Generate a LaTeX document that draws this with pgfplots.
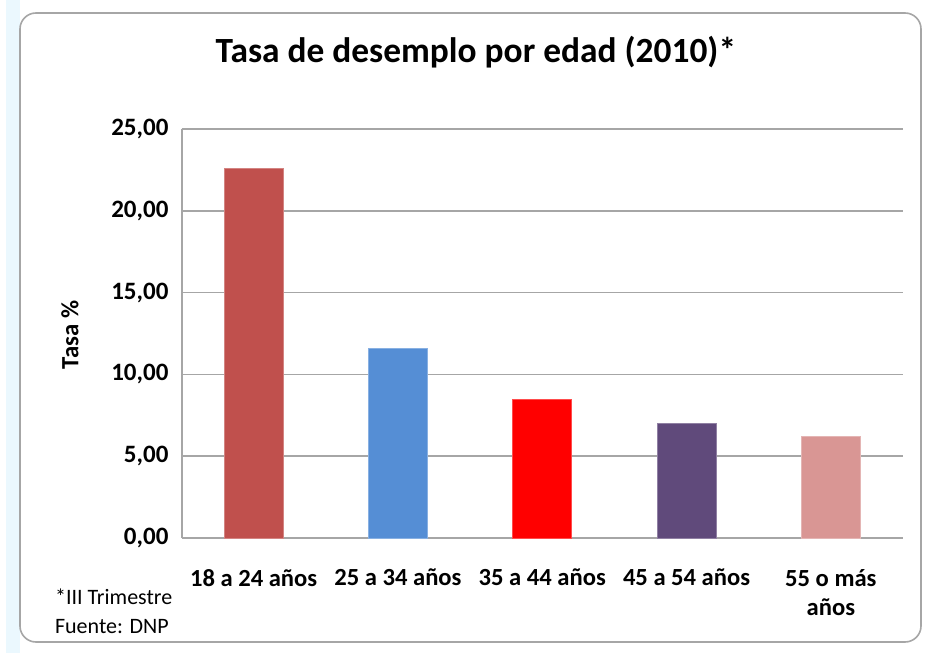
\documentclass[border=0pt]{standalone}
\usepackage{pgfplots}
\pgfplotsset{compat=1.18}
\usepackage{fontspec}
\setmainfont{Carlito}

\definecolor{barA}{HTML}{C0504D}
\definecolor{barB}{HTML}{558ED5}
\definecolor{barC}{HTML}{FF0000}
\definecolor{barD}{HTML}{604A7B}
\definecolor{barE}{HTML}{D99694}
\definecolor{gridc}{HTML}{A6A6A6}

\begin{document}
\begin{tikzpicture}
% page and chart frame
\useasboundingbox (0,0) rectangle (463pt,326.5pt);
\fill[white] (0,0) rectangle (463pt,326.5pt);
\fill[cyan!8] (3pt,0) rectangle (10pt,326.5pt);
\draw[gray!70, line width=0.8pt, rounded corners=8pt] (10pt,5.5pt) rectangle (460.5pt,320pt);

\begin{axis}[
    at={(90.75pt,57.5pt)}, anchor=south west,
    scale only axis,
    width=360.75pt, height=204.5pt,
    xmin=-0.5, xmax=4.5,
    ymin=0, ymax=25,
    ytick={0,5,...,25},
    xtick={0,1,2,3,4},
    xticklabels={18 a 24 años, 25 a 34 años, 35 a 44 años, 45 a 54 años, 55 o más\\años},
    major tick length=0pt,
    axis x line*=bottom,
    axis y line*=left,
    axis line style={gridc, line width=1pt},
    ymajorgrids,
    grid style={gridc, line width=0.8pt},
    /pgf/number format/.cd, fixed, fixed zerofill, precision=2, use comma, assume math mode=true,
    /pgfplots/.cd,
    yticklabel style={font=\bfseries\fontsize{12.5}{15}\selectfont, xshift=-3pt},
    xticklabel style={font=\bfseries\fontsize{12.3}{14.5}\selectfont, align=center, yshift=-12pt},
    ylabel={Tasa \%},
    ylabel style={font=\bfseries\fontsize{12.4}{15}\selectfont, at={(axis description cs:-0.1545,0.496)}, anchor=center},
    title={Tasa de desemplo por edad (2010)*},
    title style={font=\bfseries\fontsize{17.7}{21}\selectfont, at={(axis description cs:0.408,1.159)}, anchor=center},
    ybar, bar width=29.5pt, bar shift=0pt,
    clip=false,
]
\addplot[fill=barA, draw=barA!70!white] coordinates {(0,22.6)};
\addplot[fill=barB, draw=barB!70!white] coordinates {(1,11.6)};
\addplot[fill=barC, draw=barC!70!white] coordinates {(2,8.5)};
\addplot[fill=barD, draw=barD!70!white] coordinates {(3,7.0)};
\addplot[fill=barE, draw=barE!70!white] coordinates {(4,6.2)};
\end{axis}

\node[anchor=west, font=\fontsize{11}{13}\selectfont] at (24pt,28pt) {*III Trimestre};
\node[anchor=west, font=\fontsize{11}{13}\selectfont] at (24pt,13pt) {Fuente: DNP};
\end{tikzpicture}
\end{document}
